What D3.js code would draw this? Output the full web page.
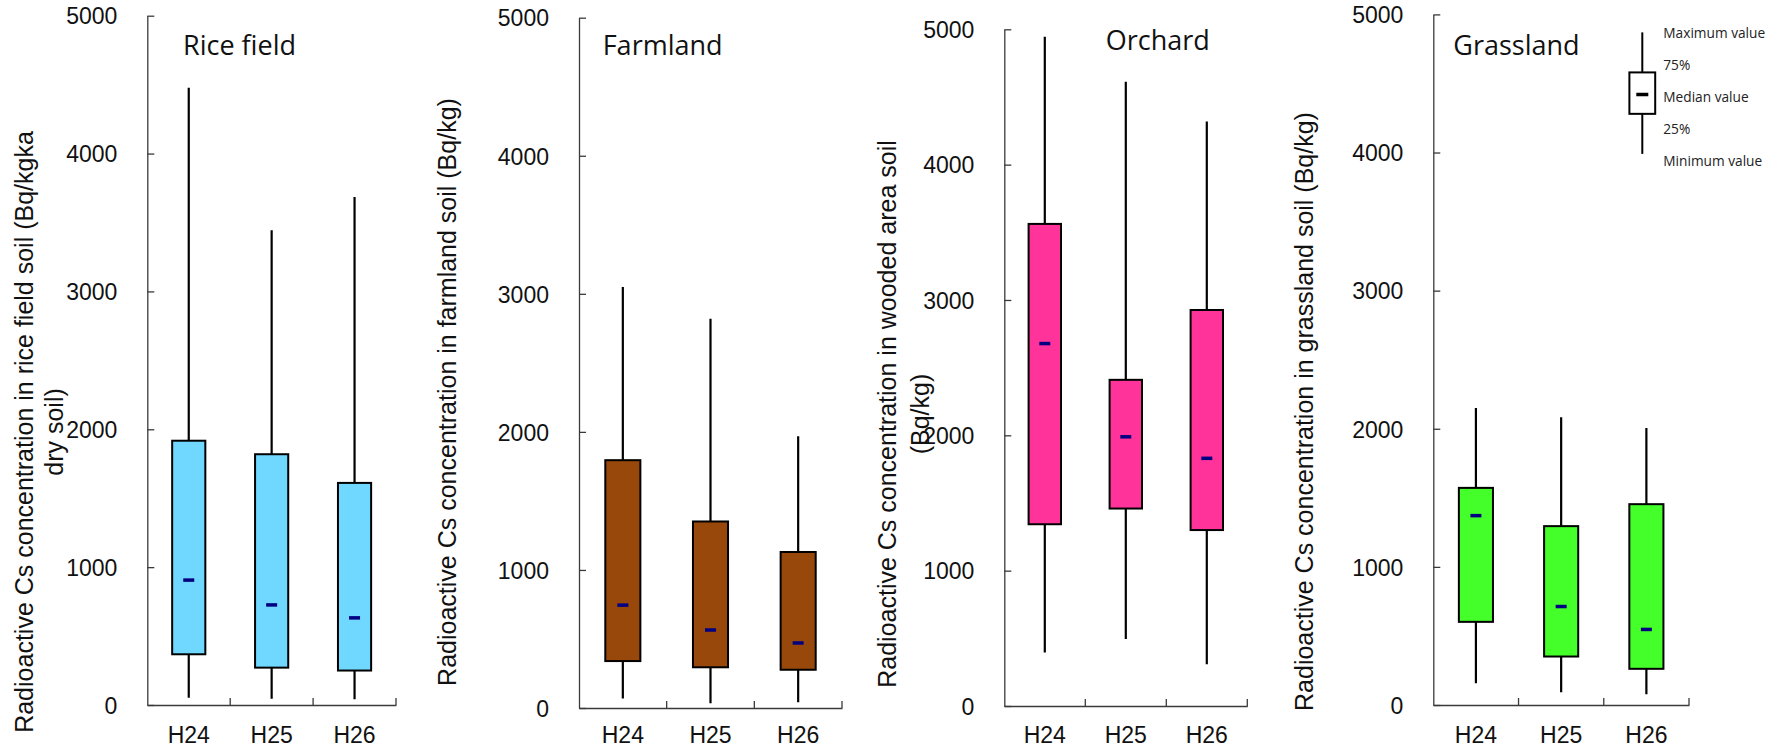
<!DOCTYPE html>
<html>
<head>
<meta charset="utf-8">
<script src="https://cdn.jsdelivr.net/npm/d3@7"></script>
<style>
  body { margin: 0; background: #fff; }
  svg { display: block; }
</style>
</head>
<body>
<svg id="chart" width="1781" height="750"></svg>
<script>
// ============================================
// Radioactive Cs in soil by land use, H24–H26
// ============================================

const years = ['H24', 'H25', 'H26'];
const yTicks = [0, 1000, 2000, 3000, 4000, 5000];

// [min, 25%, median, 75%, max] for each year
const riceField = [[53, 368, 906, 1917, 4478], [46, 271, 726, 1819, 3444], [41, 250, 632, 1611, 3684]];
const farmland = [[69, 340, 745, 1795, 3049], [35, 295, 565, 1351, 2820], [42, 277, 471, 1130, 1968]];
const orchard = [[396, 1343, 2678, 3562, 4945], [495, 1459, 1989, 2410, 4613], [308, 1300, 1830, 2926, 4318]];
const grassland = [[157, 602, 1371, 1572, 2150], [92, 351, 713, 1295, 2084], [78, 262, 547, 1454, 2005]];

const titles = ['Rice field', 'Farmland', 'Orchard', 'Grassland'];
const boxColors = ['#70d8ff', '#99480b', '#ff3399', '#44ff2a'];
const yLabels = [
  ['Radioactive Cs concentration in rice field soil (Bq/kgka', 'dry soil)'],
  ['Radioactive Cs concentration in farmland soil (Bq/kg)'],
  ['Radioactive Cs concentration in wooded area soil', '(Bq/kg)'],
  ['Radioactive Cs concentration in grassland soil (Bq/kg)']
];

// legend: schematic box drawn on the grassland scale
const legendLabels = ['Maximum value', '75%', 'Median value', '25%', 'Minimum value'];
const legendStats = [3990, 4280, 4420, 4580, 4870];

const TICK_FONT = '"Liberation Sans", Arial, sans-serif';
const TITLE_FONT = '"Open Sans", "Noto Sans", sans-serif';
const MEDIAN_COLOR = '#000080';
const AXIS_COLOR = '#3a3a3a';
const X_LABEL_BASELINE = 743;

// panel geometry (axis box in px)
const panels = [
  { data: riceField, left: 147.3, right: 396, top: 15.7, bottom: 705,
    titleX: 183, titleY: 55, labelX: [33, 63], labelY: 432 },
  { data: farmland, left: 579, right: 842, top: 17.7, bottom: 708,
    titleX: 602.7, titleY: 55, labelX: [456], labelY: 392 },
  { data: orchard, left: 1004.3, right: 1247.3, top: 29.3, bottom: 706,
    titleX: 1105.7, titleY: 50, labelX: [896, 929], labelY: 414 },
  { data: grassland, left: 1433.3, right: 1689, top: 14.4, bottom: 705,
    titleX: 1453.3, titleY: 55, labelX: [1313], labelY: 411.5 }
];

const svg = d3.select('#chart');

panels.forEach((p, pi) => {
  const g = svg.append('g');
  const x = d3.scaleBand().domain(years).range([p.left, p.right]);
  const y = d3.scaleLinear().domain([0, 5000]).range([p.bottom, p.top]);
  const bw = x.bandwidth() * 0.4;
  const cx = d => x(d) + x.bandwidth() / 2;

  // y axis, ticks pointing inward
  const yAxis = g.append('g')
    .attr('transform', `translate(${p.left},0)`)
    .call(d3.axisLeft(y).tickValues(yTicks).tickSizeInner(-7).tickSizeOuter(0)
      .tickPadding(30).tickFormat(d3.format('d')));
  yAxis.selectAll('path, line').attr('stroke', AXIS_COLOR).attr('stroke-width', 1.3);
  yAxis.selectAll('text')
    .attr('font-family', TICK_FONT).attr('font-size', 23).attr('fill', '#111')
    .attr('dy', '0.36em');

  // x axis: labels centred, ticks on band boundaries
  const xAxis = g.append('g')
    .attr('transform', `translate(0,${p.bottom})`)
    .call(d3.axisBottom(x).tickSize(0).tickSizeOuter(0));
  xAxis.select('path').attr('stroke', AXIS_COLOR).attr('stroke-width', 1.3);
  xAxis.selectAll('text')
    .attr('font-family', TICK_FONT).attr('font-size', 23).attr('fill', '#111')
    .attr('y', X_LABEL_BASELINE - p.bottom).attr('dy', 0);
  xAxis.selectAll('line.bound')
    .data(years)
    .join('line')
    .attr('class', 'bound')
    .attr('x1', d => x(d) + x.step()).attr('x2', d => x(d) + x.step())
    .attr('y1', 0).attr('y2', -7)
    .attr('stroke', AXIS_COLOR).attr('stroke-width', 1.3);

  const rows = years.map((yr, i) => ({ year: yr, min: p.data[i][0], q1: p.data[i][1],
    med: p.data[i][2], q3: p.data[i][3], max: p.data[i][4] }));

  // whiskers
  g.selectAll('line.whisker')
    .data(rows)
    .join('line')
    .attr('class', 'whisker')
    .attr('x1', d => cx(d.year)).attr('x2', d => cx(d.year))
    .attr('y1', d => y(d.min)).attr('y2', d => y(d.max))
    .attr('stroke', '#000').attr('stroke-width', 2.2);

  // boxes
  g.selectAll('rect.box')
    .data(rows)
    .join('rect')
    .attr('class', 'box')
    .attr('x', d => cx(d.year) - bw / 2)
    .attr('y', d => y(d.q3))
    .attr('width', bw)
    .attr('height', d => y(d.q1) - y(d.q3))
    .attr('fill', boxColors[pi])
    .attr('stroke', '#000').attr('stroke-width', 2);

  // medians
  g.selectAll('rect.median')
    .data(rows)
    .join('rect')
    .attr('class', 'median')
    .attr('x', d => cx(d.year) - 5.5)
    .attr('y', d => y(d.med) - 1.75)
    .attr('width', 11).attr('height', 3.5)
    .attr('fill', MEDIAN_COLOR);

  // title
  g.append('text')
    .attr('x', p.titleX).attr('y', p.titleY)
    .attr('font-family', TITLE_FONT).attr('font-size', 27).attr('fill', '#111')
    .text(titles[pi]);

  // rotated y label (one or two lines)
  yLabels[pi].forEach((line, li) => {
    g.append('text')
      .attr('transform', `translate(${p.labelX[li]},${p.labelY}) rotate(-90)`)
      .attr('text-anchor', 'middle')
      .attr('font-family', TICK_FONT).attr('font-size', 25).attr('fill', '#111')
      .text(line);
  });

  // legend lives in the grassland panel
  if (pi === 3) {
    const lx = 1642.3;
    const [lmin, lq1, lmed, lq3, lmax] = legendStats;
    const lg = g.append('g');
    lg.append('line')
      .attr('x1', lx).attr('x2', lx).attr('y1', y(lmin)).attr('y2', y(lmax))
      .attr('stroke', '#000').attr('stroke-width', 2);
    lg.append('rect')
      .attr('x', lx - 12.9).attr('y', y(lq3))
      .attr('width', 25.8).attr('height', y(lq1) - y(lq3))
      .attr('fill', '#fff').attr('stroke', '#000').attr('stroke-width', 2);
    lg.append('rect')
      .attr('x', lx - 6).attr('y', y(lmed) - 1.75)
      .attr('width', 12).attr('height', 3.5).attr('fill', '#000');
    lg.selectAll('text')
      .data(legendLabels)
      .join('text')
      .attr('x', 1663.3)
      .attr('y', (d, i) => 37.8 + i * 32)
      .attr('font-family', TITLE_FONT).attr('font-size', 13.7).attr('fill', '#222')
      .text(d => d);
  }
});
</script>
</body>
</html>
